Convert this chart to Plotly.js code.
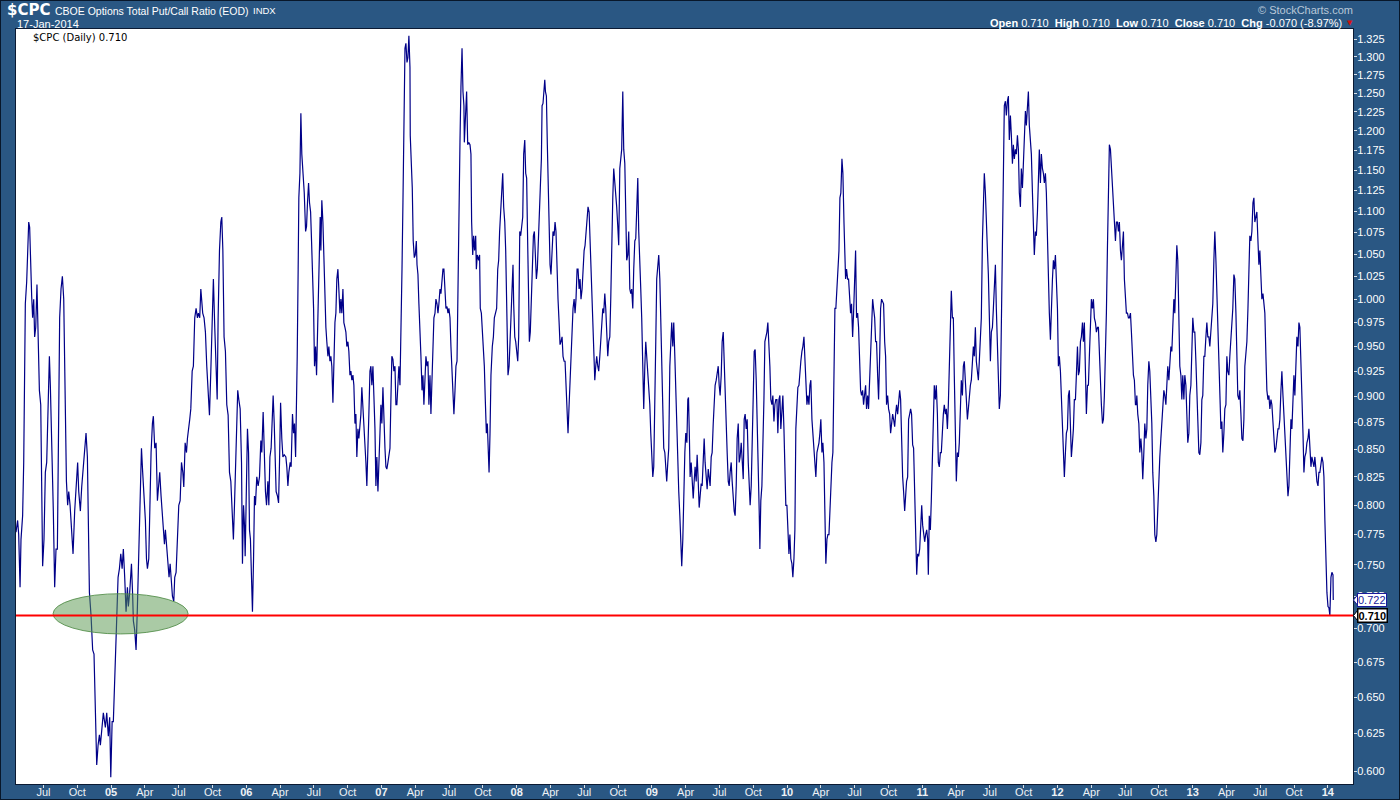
<!DOCTYPE html>
<html><head><meta charset="utf-8">
<script src="https://cdn.plot.ly/plotly-3.0.1.min.js"></script>
<style>
html,body{margin:0;padding:0;background:#2a5783;overflow:hidden;}
#chart{width:1398px;height:798px;border:1px solid #08172a;}
</style>
</head><body><div id="chart"></div>
<script>
// ---- data (decimal year, put/call ratio) ----
const T04_05 = [2004.297,2004.309,2004.317,2004.327,2004.334,2004.346,2004.354,2004.366,2004.376,2004.386,2004.391,2004.398,2004.406,2004.413,2004.420,2004.428,2004.435,2004.443,2004.452,2004.460,2004.470,2004.480,2004.489,2004.494,2004.504,2004.514,2004.524,2004.534,2004.544,2004.551,2004.563,2004.573,2004.583,2004.593,2004.603,2004.610,2004.620,2004.630,2004.640,2004.650,2004.655,2004.662,2004.670,2004.679,2004.687,2004.697,2004.704,2004.711,2004.719,2004.731,2004.741,2004.753,2004.761,2004.773,2004.783,2004.798,2004.805,2004.815,2004.825,2004.832,2004.840,2004.852,2004.864,2004.874,2004.884,2004.894,2004.904,2004.914,2004.921,2004.933,2004.943,2004.958,2004.968,2004.980,2004.990,2004.998,2005.008,2005.017,2005.027,2005.037,2005.045,2005.052,2005.062,2005.072,2005.082,2005.091,2005.101,2005.111,2005.121,2005.128,2005.138,2005.151,2005.160,2005.165,2005.175,2005.185,2005.195,2005.205,2005.215,2005.225,2005.234,2005.244,2005.254,2005.262,2005.269,2005.279,2005.286,2005.296,2005.306,2005.313,2005.323,2005.333,2005.343,2005.353,2005.360,2005.370,2005.380,2005.387,2005.395,2005.402,2005.412,2005.420,2005.429,2005.437,2005.444,2005.454,2005.464,2005.471,2005.481,2005.491,2005.501,2005.511,2005.521,2005.531,2005.538,2005.548,2005.558,2005.565,2005.575,2005.582,2005.590,2005.600,2005.609,2005.619,2005.629,2005.639,2005.646,2005.656,2005.664,2005.671,2005.678,2005.688,2005.698,2005.708,2005.718,2005.728,2005.738,2005.748,2005.757,2005.767,2005.777,2005.785,2005.792,2005.802,2005.812,2005.819,2005.827,2005.836,2005.846,2005.856,2005.866,2005.876,2005.886,2005.895,2005.905,2005.913,2005.923,2005.930,2005.937,2005.945];
const V04_05 = [0.777,0.787,0.775,0.732,0.771,0.791,0.838,0.995,1.019,1.071,1.087,1.081,1.016,1.003,0.980,1.000,0.960,0.970,1.016,0.970,0.906,0.892,0.812,0.749,0.771,0.829,0.838,0.906,0.940,0.911,0.856,0.795,0.732,0.763,0.763,0.865,0.980,1.011,1.025,1.000,0.955,0.901,0.821,0.800,0.812,0.800,0.787,0.775,0.759,0.795,0.812,0.838,0.812,0.795,0.816,0.838,0.843,0.865,0.843,0.795,0.728,0.710,0.684,0.681,0.633,0.604,0.617,0.624,0.617,0.629,0.639,0.629,0.639,0.623,0.636,0.596,0.633,0.633,0.660,0.702,0.717,0.740,0.747,0.759,0.747,0.763,0.740,0.713,0.732,0.717,0.728,0.751,0.725,0.706,0.699,0.684,0.717,0.755,0.795,0.851,0.829,0.812,0.787,0.755,0.747,0.755,0.795,0.847,0.874,0.881,0.851,0.856,0.804,0.816,0.829,0.808,0.787,0.783,0.767,0.779,0.763,0.755,0.740,0.751,0.736,0.725,0.721,0.740,0.744,0.767,0.800,0.804,0.838,0.829,0.816,0.856,0.847,0.860,0.869,0.878,0.888,0.925,0.930,0.980,0.990,0.980,0.985,0.980,1.011,1.000,0.985,0.980,0.965,0.930,0.906,0.882,0.925,0.995,1.022,0.970,0.920,0.897,0.980,1.054,1.087,1.093,1.054,0.960,0.945,0.892,0.882,0.829,0.821,0.800,0.771,0.800,0.851,0.865,0.906,0.897];

const T06_07 = [2005.955,2005.965,2005.972,2005.980,2005.987,2005.992,2006.000,2006.009,2006.017,2006.024,2006.031,2006.039,2006.046,2006.054,2006.061,2006.068,2006.078,2006.088,2006.098,2006.108,2006.115,2006.125,2006.135,2006.142,2006.150,2006.160,2006.167,2006.175,2006.184,2006.192,2006.199,2006.207,2006.214,2006.221,2006.231,2006.239,2006.246,2006.254,2006.263,2006.271,2006.281,2006.293,2006.300,2006.308,2006.315,2006.325,2006.332,2006.342,2006.350,2006.357,2006.365,2006.372,2006.377,2006.384,2006.389,2006.397,2006.404,2006.411,2006.419,2006.429,2006.439,2006.446,2006.453,2006.461,2006.468,2006.476,2006.483,2006.490,2006.498,2006.505,2006.513,2006.520,2006.527,2006.535,2006.542,2006.547,2006.552,2006.559,2006.567,2006.574,2006.582,2006.589,2006.596,2006.604,2006.611,2006.619,2006.626,2006.633,2006.641,2006.648,2006.656,2006.663,2006.670,2006.678,2006.685,2006.693,2006.700,2006.707,2006.715,2006.722,2006.730,2006.737,2006.744,2006.752,2006.759,2006.767,2006.774,2006.781,2006.789,2006.796,2006.804,2006.811,2006.818,2006.826,2006.833,2006.841,2006.848,2006.855,2006.863,2006.870,2006.878,2006.885,2006.892,2006.900,2006.907,2006.915,2006.922,2006.929,2006.937,2006.944,2006.952,2006.959,2006.966,2006.974,2006.981,2006.989,2006.996,2007.003,2007.011,2007.018,2007.026,2007.033,2007.040,2007.048,2007.055,2007.063,2007.070,2007.077,2007.085,2007.092,2007.100,2007.107,2007.114,2007.122,2007.129,2007.137,2007.144,2007.152,2007.159,2007.166,2007.174,2007.181,2007.189,2007.196,2007.203,2007.211,2007.213,2007.221,2007.228,2007.235,2007.243,2007.250,2007.258,2007.263,2007.270,2007.277,2007.285,2007.292,2007.300,2007.307,2007.314,2007.322,2007.329,2007.337,2007.344,2007.351,2007.359,2007.366,2007.374,2007.381,2007.388,2007.396,2007.403,2007.411,2007.418,2007.425,2007.433,2007.440,2007.448,2007.455,2007.462,2007.470,2007.477,2007.485,2007.492,2007.499,2007.507,2007.514,2007.522,2007.529,2007.536,2007.544,2007.551,2007.559,2007.566,2007.573,2007.581,2007.588,2007.596,2007.603,2007.610];
const V06_07 = [0.888,0.838,0.751,0.800,0.783,0.757,0.804,0.869,0.847,0.779,0.771,0.736,0.713,0.755,0.808,0.800,0.825,0.817,0.825,0.858,0.847,0.885,0.838,0.812,0.800,0.821,0.800,0.843,0.851,0.892,0.901,0.874,0.829,0.812,0.808,0.802,0.838,0.894,0.860,0.843,0.845,0.843,0.834,0.817,0.829,0.838,0.834,0.883,0.865,0.874,0.843,0.892,0.940,1.033,1.116,1.146,1.223,1.170,1.146,1.122,1.076,1.082,1.110,1.134,1.110,1.099,1.065,1.033,0.990,0.930,0.950,0.921,0.960,1.000,1.076,1.093,1.054,1.113,1.087,1.049,0.995,0.970,0.955,0.940,0.950,0.935,0.940,0.930,0.894,0.940,0.975,0.985,1.022,1.033,1.016,0.985,1.000,0.985,1.011,0.975,0.970,0.965,0.950,0.955,0.945,0.921,0.925,0.916,0.921,0.911,0.874,0.883,0.843,0.869,0.860,0.874,0.883,0.909,0.892,0.869,0.860,0.838,0.817,0.843,0.883,0.925,0.930,0.911,0.930,0.901,0.869,0.817,0.843,0.812,0.847,0.865,0.892,0.874,0.909,0.874,0.851,0.834,0.832,0.838,0.847,0.851,0.897,0.940,0.937,0.925,0.930,0.892,0.892,0.921,0.930,0.911,0.955,1.033,1.110,1.252,1.312,1.319,1.292,1.299,1.330,1.285,1.194,1.158,1.128,1.065,1.046,1.049,1.065,1.038,1.027,0.995,0.970,0.940,0.906,0.921,0.892,0.930,0.940,0.930,0.935,0.892,0.921,0.883,0.911,0.950,0.980,0.985,1.000,0.995,0.985,0.995,1.011,1.006,1.027,1.033,1.033,1.011,0.990,0.992,0.985,0.990,0.980,0.950,0.921,0.897,0.883,0.906,0.930,0.935,1.033,1.122,1.188,1.258,1.312,1.252,1.233];

const T07_09 = [2007.613,2007.620,2007.630,2007.638,2007.645,2007.655,2007.662,2007.667,2007.675,2007.682,2007.689,2007.697,2007.702,2007.709,2007.719,2007.726,2007.731,2007.739,2007.746,2007.754,2007.761,2007.768,2007.776,2007.783,2007.791,2007.796,2007.803,2007.810,2007.820,2007.828,2007.835,2007.842,2007.852,2007.860,2007.867,2007.874,2007.882,2007.889,2007.897,2007.904,2007.912,2007.919,2007.924,2007.931,2007.936,2007.944,2007.951,2007.958,2007.966,2007.973,2007.978,2007.986,2007.993,2008.000,2008.008,2008.015,2008.023,2008.030,2008.037,2008.045,2008.052,2008.060,2008.067,2008.074,2008.079,2008.087,2008.094,2008.101,2008.109,2008.116,2008.124,2008.131,2008.138,2008.146,2008.153,2008.161,2008.168,2008.175,2008.183,2008.188,2008.195,2008.203,2008.208,2008.213,2008.220,2008.227,2008.232,2008.240,2008.247,2008.254,2008.262,2008.269,2008.277,2008.284,2008.291,2008.299,2008.306,2008.314,2008.321,2008.328,2008.336,2008.343,2008.351,2008.358,2008.365,2008.373,2008.380,2008.388,2008.395,2008.402,2008.410,2008.417,2008.425,2008.432,2008.439,2008.447,2008.454,2008.462,2008.469,2008.476,2008.484,2008.491,2008.499,2008.506,2008.513,2008.521,2008.528,2008.536,2008.543,2008.550,2008.558,2008.565,2008.573,2008.578,2008.585,2008.592,2008.600,2008.607,2008.615,2008.622,2008.629,2008.637,2008.644,2008.652,2008.659,2008.666,2008.674,2008.681,2008.689,2008.696,2008.703,2008.711,2008.718,2008.726,2008.733,2008.740,2008.748,2008.755,2008.763,2008.770,2008.777,2008.785,2008.792,2008.800,2008.807,2008.814,2008.822,2008.829,2008.837,2008.844,2008.851,2008.859,2008.866,2008.874,2008.881,2008.888,2008.896,2008.903,2008.911,2008.918,2008.925,2008.933,2008.940,2008.948,2008.955,2008.962,2008.970,2008.977,2008.985,2008.992,2008.999,2009.007,2009.014,2009.022,2009.029,2009.036,2009.044,2009.051,2009.059,2009.066,2009.073,2009.081,2009.088,2009.096,2009.103,2009.110,2009.118,2009.125,2009.133,2009.140,2009.147,2009.155,2009.162,2009.170,2009.177,2009.184,2009.192,2009.199,2009.207,2009.214,2009.221,2009.229,2009.236,2009.244,2009.251,2009.259,2009.266];
const V07_09 = [1.185,1.207,1.252,1.182,1.185,1.182,1.170,1.087,1.049,1.071,1.054,1.071,1.033,1.049,1.043,1.049,0.990,0.985,0.970,0.955,0.930,0.897,0.865,0.874,0.838,0.829,0.865,0.921,0.950,0.960,0.980,0.985,0.990,1.033,1.043,1.076,1.105,1.122,1.146,1.105,1.087,1.054,1.000,0.960,0.921,0.930,0.970,0.980,1.011,1.038,0.995,0.960,0.955,0.945,0.935,0.960,1.076,1.071,1.087,1.093,1.170,1.188,1.146,1.140,1.087,1.022,0.955,0.965,1.000,1.033,1.071,1.076,1.049,1.022,1.033,1.076,1.087,1.128,1.164,1.233,1.236,1.252,1.268,1.252,1.246,1.182,1.140,1.099,1.038,1.027,1.060,1.076,1.071,1.087,1.076,1.027,1.000,0.975,0.952,0.955,0.960,0.940,0.935,0.935,0.911,0.883,0.865,0.892,0.916,0.935,0.950,0.990,1.000,0.985,1.000,1.033,1.033,1.011,1.022,1.000,1.011,1.033,1.054,1.060,1.076,1.087,1.105,1.099,1.065,1.033,1.000,0.980,0.950,0.916,0.930,0.940,0.930,0.925,0.940,0.955,0.980,0.990,0.985,1.006,0.990,0.970,0.940,0.955,0.960,1.000,1.076,1.116,1.152,1.134,1.128,1.105,1.082,1.060,1.152,1.164,1.176,1.252,1.176,1.158,1.071,1.043,1.049,1.076,1.011,1.006,1.011,0.990,1.033,1.065,1.068,1.116,1.140,1.076,1.022,1.011,0.980,0.930,0.888,0.930,0.955,0.940,0.925,0.911,0.892,0.865,0.838,0.825,0.834,0.883,0.955,1.022,1.033,1.049,1.022,0.980,0.921,0.883,0.851,0.847,0.829,0.821,0.838,0.851,0.930,0.965,0.975,0.950,0.975,0.940,0.901,0.874,0.838,0.812,0.791,0.763,0.749,0.771,0.812,0.847,0.865,0.856,0.897];

const T09_10 = [2009.271,2009.278,2009.283,2009.291,2009.298,2009.306,2009.313,2009.320,2009.328,2009.335,2009.343,2009.350,2009.357,2009.365,2009.372,2009.380,2009.387,2009.394,2009.402,2009.409,2009.417,2009.424,2009.431,2009.439,2009.446,2009.454,2009.461,2009.468,2009.476,2009.483,2009.491,2009.498,2009.505,2009.513,2009.520,2009.528,2009.535,2009.542,2009.550,2009.557,2009.565,2009.572,2009.579,2009.587,2009.594,2009.602,2009.609,2009.616,2009.624,2009.631,2009.639,2009.646,2009.653,2009.661,2009.668,2009.676,2009.683,2009.690,2009.698,2009.705,2009.713,2009.720,2009.727,2009.735,2009.742,2009.750,2009.757,2009.764,2009.772,2009.779,2009.787,2009.794,2009.799,2009.806,2009.814,2009.821,2009.829,2009.836,2009.843,2009.851,2009.858,2009.866,2009.873,2009.880,2009.888,2009.895,2009.903,2009.910,2009.917,2009.925,2009.932,2009.940,2009.947,2009.954,2009.962,2009.969,2009.977,2009.984,2009.991,2009.999,2010.006,2010.014,2010.021,2010.028,2010.036,2010.043,2010.051,2010.058,2010.065,2010.073,2010.080,2010.088,2010.095,2010.102,2010.110,2010.117,2010.125,2010.132,2010.139,2010.147,2010.154,2010.162,2010.169,2010.176,2010.184,2010.191,2010.199,2010.206,2010.213,2010.221,2010.228,2010.236,2010.243,2010.250,2010.258,2010.265,2010.273,2010.280,2010.287,2010.295,2010.302,2010.310,2010.317,2010.324,2010.332,2010.339,2010.347,2010.354,2010.361,2010.369,2010.376,2010.384,2010.391,2010.398,2010.406,2010.413,2010.421,2010.428,2010.433,2010.440,2010.448,2010.455,2010.463,2010.470,2010.477,2010.485,2010.492,2010.500,2010.507,2010.514,2010.522,2010.529,2010.537,2010.544,2010.551,2010.559,2010.566,2010.574,2010.581,2010.588,2010.596,2010.603,2010.611,2010.618,2010.625,2010.633,2010.640,2010.648,2010.655,2010.662,2010.670,2010.677,2010.685,2010.692,2010.699,2010.707,2010.714,2010.722,2010.729,2010.736,2010.744,2010.751,2010.759,2010.766,2010.773,2010.781,2010.788,2010.796,2010.803,2010.810,2010.818,2010.825,2010.833,2010.840,2010.847,2010.855,2010.862,2010.870,2010.877,2010.884,2010.892,2010.899,2010.907,2010.914,2010.921];
const V09_10 = [0.899,0.860,0.825,0.838,0.825,0.806,0.821,0.834,0.821,0.845,0.821,0.798,0.808,0.819,0.817,0.838,0.860,0.838,0.821,0.814,0.832,0.821,0.817,0.843,0.847,0.874,0.901,0.911,0.916,0.925,0.930,0.911,0.901,0.921,0.955,0.965,0.930,0.921,0.883,0.847,0.821,0.817,0.829,0.838,0.821,0.804,0.795,0.791,0.817,0.860,0.874,0.838,0.843,0.856,0.838,0.823,0.878,0.883,0.869,0.878,0.838,0.812,0.800,0.817,0.847,0.901,0.945,0.947,0.916,0.883,0.838,0.795,0.763,0.804,0.817,0.847,0.897,0.955,0.960,0.965,0.975,0.955,0.930,0.897,0.892,0.901,0.876,0.892,0.897,0.897,0.865,0.897,0.901,0.869,0.883,0.901,0.869,0.838,0.800,0.800,0.775,0.759,0.775,0.755,0.751,0.740,0.755,0.779,0.869,0.892,0.909,0.911,0.930,0.935,0.945,0.950,0.960,0.940,0.906,0.892,0.901,0.892,0.911,0.916,0.878,0.865,0.851,0.843,0.825,0.847,0.851,0.856,0.865,0.878,0.847,0.856,0.838,0.795,0.751,0.771,0.775,0.775,0.795,0.825,0.838,0.847,0.940,0.990,0.990,1.011,1.043,1.054,1.116,1.122,1.164,1.146,1.087,1.043,1.022,1.033,1.022,1.022,1.000,0.985,0.995,0.960,0.985,1.027,1.054,0.980,0.985,0.970,0.940,0.906,0.901,0.906,0.892,0.906,0.911,0.888,0.901,0.888,0.921,0.935,0.960,1.000,0.990,0.980,0.955,0.955,0.921,0.897,0.940,0.990,1.000,0.998,0.995,0.955,0.940,0.892,0.901,0.888,0.883,0.865,0.878,0.883,0.878,0.871,0.883,0.892,0.883,0.892,0.906,0.897,0.851,0.825,0.812,0.795,0.808,0.821,0.825,0.878,0.883,0.888,0.883];

const T11_12 = [2010.929,2010.936,2010.944,2010.951,2010.959,2010.966,2010.973,2010.981,2010.988,2010.996,2011.003,2011.010,2011.018,2011.025,2011.033,2011.040,2011.045,2011.052,2011.060,2011.067,2011.075,2011.082,2011.089,2011.097,2011.104,2011.112,2011.119,2011.126,2011.134,2011.141,2011.149,2011.156,2011.163,2011.171,2011.178,2011.186,2011.193,2011.200,2011.208,2011.215,2011.223,2011.230,2011.237,2011.245,2011.252,2011.260,2011.267,2011.274,2011.282,2011.289,2011.297,2011.304,2011.311,2011.319,2011.326,2011.334,2011.341,2011.348,2011.356,2011.363,2011.371,2011.378,2011.385,2011.393,2011.400,2011.408,2011.415,2011.422,2011.430,2011.437,2011.445,2011.452,2011.459,2011.467,2011.474,2011.482,2011.489,2011.496,2011.504,2011.511,2011.519,2011.526,2011.533,2011.541,2011.548,2011.556,2011.563,2011.570,2011.578,2011.585,2011.593,2011.600,2011.607,2011.615,2011.622,2011.630,2011.637,2011.644,2011.652,2011.659,2011.667,2011.674,2011.681,2011.689,2011.696,2011.704,2011.711,2011.718,2011.726,2011.733,2011.741,2011.748,2011.755,2011.763,2011.770,2011.778,2011.785,2011.792,2011.800,2011.807,2011.815,2011.822,2011.829,2011.837,2011.844,2011.852,2011.859,2011.866,2011.874,2011.881,2011.889,2011.896,2011.903,2011.911,2011.918,2011.926,2011.933,2011.940,2011.948,2011.955,2011.963,2011.970,2011.977,2011.985,2011.992,2012.000,2012.007,2012.014,2012.022,2012.029,2012.037,2012.044,2012.051,2012.059,2012.066,2012.074,2012.081,2012.088,2012.096,2012.103,2012.111,2012.118,2012.125,2012.133,2012.140,2012.148,2012.155,2012.162,2012.170,2012.177,2012.185,2012.192,2012.199,2012.207,2012.214,2012.222,2012.229,2012.236,2012.244,2012.251,2012.259,2012.266,2012.273,2012.281,2012.288,2012.296,2012.303,2012.310,2012.318,2012.325,2012.333,2012.340,2012.347,2012.355,2012.362,2012.370,2012.377,2012.384,2012.392,2012.399,2012.407,2012.414,2012.421,2012.429,2012.436,2012.444,2012.451,2012.458,2012.466,2012.473,2012.481,2012.488,2012.495,2012.503,2012.510,2012.518,2012.525,2012.532,2012.540,2012.547,2012.555,2012.562,2012.569,2012.577,2012.584];
const V11_12 = [0.854,0.851,0.812,0.759,0.742,0.759,0.757,0.763,0.783,0.800,0.783,0.775,0.769,0.775,0.779,0.771,0.742,0.791,0.779,0.804,0.847,0.883,0.911,0.897,0.911,0.883,0.838,0.834,0.847,0.847,0.869,0.883,0.892,0.883,0.888,0.869,0.892,0.921,0.970,1.009,0.980,0.980,0.921,0.860,0.821,0.847,0.843,0.856,0.901,0.916,0.901,0.930,0.935,0.911,0.888,0.878,0.888,0.901,0.911,0.916,0.935,0.950,0.940,0.970,0.935,0.921,0.916,0.935,0.960,0.980,1.065,1.128,1.146,1.122,1.076,1.054,1.027,0.985,0.935,0.965,0.970,0.990,1.011,1.038,0.990,0.950,0.911,0.888,0.901,0.960,1.076,1.146,1.233,1.239,1.220,1.239,1.246,1.188,1.220,1.194,1.158,1.182,1.164,1.176,1.170,1.194,1.176,1.122,1.105,1.152,1.128,1.158,1.188,1.226,1.207,1.239,1.252,1.207,1.182,1.170,1.122,1.087,1.049,1.076,1.071,1.099,1.134,1.176,1.134,1.170,1.152,1.146,1.134,1.146,1.122,1.054,1.027,0.985,0.957,1.000,1.022,1.043,1.033,1.049,1.022,0.990,0.930,0.940,0.925,0.901,0.865,0.847,0.825,0.847,0.865,0.869,0.901,0.906,0.865,0.843,0.856,0.869,0.897,0.897,0.921,0.950,0.921,0.925,0.955,0.960,0.975,0.955,0.975,0.921,0.883,0.911,0.911,0.940,0.980,1.000,0.990,1.000,0.980,0.975,0.965,0.970,0.970,0.940,0.901,0.892,0.874,0.878,0.901,0.940,0.985,1.060,1.116,1.182,1.176,1.152,1.128,1.116,1.076,1.065,1.087,1.087,1.076,1.087,1.054,1.043,1.060,1.076,1.022,1.006,0.985,0.985,0.980,0.980,0.985,0.965,0.935,0.921,0.916,0.892,0.892];

const T12_14 = [2012.587,2012.594,2012.602,2012.609,2012.617,2012.624,2012.631,2012.639,2012.646,2012.654,2012.661,2012.668,2012.676,2012.683,2012.691,2012.698,2012.705,2012.713,2012.720,2012.728,2012.735,2012.742,2012.750,2012.757,2012.765,2012.772,2012.779,2012.787,2012.794,2012.802,2012.809,2012.816,2012.824,2012.831,2012.839,2012.846,2012.853,2012.861,2012.868,2012.876,2012.883,2012.890,2012.898,2012.905,2012.913,2012.920,2012.927,2012.935,2012.942,2012.950,2012.957,2012.964,2012.972,2012.979,2012.987,2012.994,2013.001,2013.009,2013.016,2013.024,2013.031,2013.038,2013.046,2013.053,2013.061,2013.068,2013.075,2013.083,2013.090,2013.098,2013.105,2013.112,2013.120,2013.127,2013.135,2013.142,2013.149,2013.157,2013.164,2013.172,2013.179,2013.186,2013.194,2013.201,2013.209,2013.216,2013.223,2013.231,2013.238,2013.246,2013.253,2013.260,2013.268,2013.275,2013.283,2013.290,2013.297,2013.305,2013.312,2013.320,2013.327,2013.334,2013.342,2013.349,2013.357,2013.364,2013.372,2013.379,2013.386,2013.394,2013.401,2013.409,2013.416,2013.423,2013.431,2013.438,2013.446,2013.453,2013.460,2013.468,2013.475,2013.483,2013.490,2013.497,2013.505,2013.512,2013.520,2013.527,2013.534,2013.542,2013.549,2013.557,2013.564,2013.571,2013.579,2013.586,2013.594,2013.601,2013.608,2013.616,2013.623,2013.631,2013.638,2013.645,2013.653,2013.660,2013.668,2013.675,2013.682,2013.690,2013.697,2013.705,2013.712,2013.719,2013.727,2013.734,2013.742,2013.749,2013.756,2013.764,2013.771,2013.779,2013.786,2013.793,2013.801,2013.808,2013.816,2013.823,2013.830,2013.838,2013.845,2013.853,2013.860,2013.867,2013.875,2013.882,2013.890,2013.897,2013.904,2013.912,2013.919,2013.927,2013.934,2013.941,2013.949,2013.956,2013.964,2013.971,2013.978,2013.986,2013.993,2014.001,2014.008,2014.015,2014.023,2014.030,2014.038,2014.040];
const V12_14 = [0.901,0.883,0.874,0.847,0.860,0.847,0.823,0.847,0.874,0.860,0.869,0.911,0.935,0.925,0.901,0.874,0.829,0.808,0.775,0.769,0.775,0.800,0.825,0.843,0.860,0.874,0.888,0.906,0.901,0.892,0.911,0.930,0.916,0.935,0.950,0.945,0.980,1.000,0.985,1.033,1.060,1.043,0.950,0.930,0.921,0.897,0.921,0.897,0.921,0.911,0.883,0.856,0.865,0.901,0.911,0.950,0.980,0.965,0.965,0.935,0.901,0.865,0.847,0.845,0.856,0.897,0.901,0.940,0.940,0.960,0.975,0.960,0.960,0.950,0.965,0.980,0.995,1.043,1.076,1.043,1.009,0.980,0.940,0.901,0.869,0.876,0.847,0.865,0.888,0.892,0.940,0.925,0.921,0.940,0.960,0.970,0.990,1.027,1.022,0.985,0.930,0.901,0.897,0.906,0.883,0.860,0.858,0.878,0.930,0.940,0.955,0.990,1.033,1.071,1.065,1.076,1.110,1.116,1.087,1.093,1.099,1.065,1.038,1.054,1.011,1.000,1.006,0.995,0.985,0.940,0.906,0.897,0.901,0.888,0.897,0.892,0.878,0.865,0.847,0.851,0.860,0.869,0.869,0.878,0.906,0.925,0.901,0.883,0.865,0.847,0.829,0.808,0.817,0.851,0.878,0.869,0.892,0.921,0.901,0.935,0.960,0.950,0.975,0.970,0.940,0.901,0.865,0.829,0.843,0.847,0.856,0.860,0.869,0.847,0.834,0.843,0.838,0.834,0.843,0.825,0.821,0.817,0.829,0.829,0.840,0.843,0.838,0.825,0.787,0.747,0.728,0.717,0.716,0.710,0.740,0.744,0.742,0.722];

// axis ticks
const Y_TICKS = [0.600,0.625,0.650,0.675,0.700,0.725,0.750,0.775,0.800,0.825,0.850,0.875,0.900,0.925,0.950,0.975,1.000,1.025,1.050,1.075,1.100,1.125,1.150,1.175,1.200,1.225,1.250,1.275,1.300,1.325];
const TICK_YEARS = [2004,2005,2006,2007,2008,2009,2010,2011,2012,2013,2014];
const QUARTER_LABELS = ['Apr','Jul','Oct'];

// reference level and highlight
const SUPPORT_LEVEL = 0.710;
const LAST_VALUE = 0.722;
const HIGHLIGHT = {x0: 2004.571, x1: 2005.570, v0: 0.696, v1: 0.727};

const HEADER_SYMBOL = '$CPC';
const HEADER_TITLE = 'CBOE Options Total Put/Call Ratio (EOD)';
const HEADER_EXCH = 'INDX';
const HEADER_DATE = '17-Jan-2014';
const OHLC = {Open: '0.710', High: '0.710', Low: '0.710', Close: '0.710', Chg: '-0.070 (-8.97%)'};

// ---- build ----
const xs = [].concat(T04_05, T06_07, T07_09, T09_10, T11_12, T12_14);
const ys = [].concat(V04_05, V06_07, V07_09, V09_10, V11_12, V12_14);

const tickvals = [];
TICK_YEARS.forEach(yr => {
  if (yr > 2004) tickvals.push(yr);
  if (yr < 2014) QUARTER_LABELS.forEach((q, i) => {
    const v = yr + 0.25 * (i + 1);
    if (v >= 2004.4) tickvals.push(v);
  });
});
tickvals.sort((a,b)=>a-b);
const ticktext = tickvals.map(v => {
  const frac = Math.round((v - Math.floor(v)) * 4);
  if (frac === 0) return '<b>' + String(Math.floor(v)).slice(2) + '</b>';
  return QUARTER_LABELS[frac - 1];
});

const YMIN = -0.22794, YMAX = 0.12701;
const L = Math.log10;
const FONT = 'Liberation Sans, Arial, sans-serif';
const px = p => (p - 16) / 1336;     // page x -> paper x
const py = p => (783 - p) / 754;     // page y -> paper y
const paperOfVal = v => (L(v) - YMIN) / (YMAX - YMIN);

const trace = {
  x: xs, y: ys, type: 'scatter', mode: 'lines',
  line: {color: '#000088', width: 1.2},
  hoverinfo: 'skip'
};

const ohlcText = Object.keys(OHLC).map(k => '<b>' + k + '</b>\u00a0' + OHLC[k]).join('\u00a0\u00a0');

const annotations = [
  {xref:'paper', yref:'paper', x: px(5), y: py(10), xanchor:'left', yanchor:'middle', showarrow:false,
   text:'<b>' + HEADER_SYMBOL + '</b>', font:{family:'DejaVu Sans, sans-serif', size:15, color:'#ffffff'}},
  {xref:'paper', yref:'paper', x: px(53), y: py(11), xanchor:'left', yanchor:'middle', showarrow:false,
   text: HEADER_TITLE, font:{family:FONT, size:10.5, color:'#ffffff'}},
  {xref:'paper', yref:'paper', x: px(251), y: py(11), xanchor:'left', yanchor:'middle', showarrow:false,
   text: HEADER_EXCH, font:{family:FONT, size:9.5, color:'#ffffff'}},
  {xref:'paper', yref:'paper', x: px(15), y: py(24), xanchor:'left', yanchor:'middle', showarrow:false,
   text: HEADER_DATE, font:{family:FONT, size:11, color:'#ffffff'}},
  {xref:'paper', yref:'paper', x: px(1354), y: py(10), xanchor:'right', yanchor:'middle', showarrow:false,
   text: '\u00a9 StockCharts.com', font:{family:FONT, size:11, color:'#b9c8d8'}},
  {xref:'paper', yref:'paper', x: px(1343), y: py(23), xanchor:'right', yanchor:'middle', showarrow:false,
   text: ohlcText, font:{family:FONT, size:11, color:'#ffffff'}},
  {xref:'paper', yref:'paper', x: px(1349), y: py(23), xanchor:'center', yanchor:'middle', showarrow:false,
   text: '\u25BC', font:{family:'DejaVu Sans, sans-serif', size:7, color:'#d01010'}},
  {xref:'paper', yref:'paper', x: px(31), y: py(37), xanchor:'left', yanchor:'middle', showarrow:false,
   text: HEADER_SYMBOL + ' (Daily) ' + OHLC.Close, font:{family:'DejaVu Sans, sans-serif', size:10, color:'#000000'}},
  {xref:'paper', yref:'paper', x: px(1356), y: paperOfVal(LAST_VALUE), xanchor:'left', yanchor:'middle', showarrow:false,
   text: LAST_VALUE.toFixed(3), bgcolor:'#ffffff', bordercolor:'#1a1a9a', borderwidth:1, borderpad:0,
   font:{family:FONT, size:11, color:'#1a1a9a'}},
  {xref:'paper', yref:'paper', x: px(1356), y: paperOfVal(SUPPORT_LEVEL), xanchor:'left', yanchor:'middle', showarrow:false,
   text: '<b>' + SUPPORT_LEVEL.toFixed(3) + '</b>', bgcolor:'#ffffff', bordercolor:'#000000', borderwidth:1.5, borderpad:0,
   font:{family:FONT, size:11, color:'#000000'}}
];

function notch(v, color) {
  const yc = paperOfVal(v), h = 5 / 754;
  return {type:'path', xref:'paper', yref:'paper', layer:'above',
    path: 'M ' + px(1352.5) + ',' + yc + ' L ' + px(1356.5) + ',' + (yc + h) + ' L ' + px(1356.5) + ',' + (yc - h) + ' Z',
    fillcolor:'#ffffff', line:{color: color, width:1}};
}

const shapes = [
  {type:'circle', xref:'x', yref:'paper', x0: HIGHLIGHT.x0, x1: HIGHLIGHT.x1,
   y0: paperOfVal(HIGHLIGHT.v0), y1: paperOfVal(HIGHLIGHT.v1),
   fillcolor:'rgba(85,150,75,0.5)', line:{color:'rgba(80,140,70,0.85)', width:1}, layer:'above'},
  {type:'line', xref:'paper', yref:'paper', x0:0, x1:1, y0: paperOfVal(SUPPORT_LEVEL), y1: paperOfVal(SUPPORT_LEVEL),
   line:{color:'#ff0000', width:2}, layer:'above'},
  notch(LAST_VALUE, '#1a1a9a'),
  notch(SUPPORT_LEVEL, '#000000')
];

const layout = {
  width: 1398, height: 798,
  margin: {l:15, r:46, t:28, b:15, pad:0},
  paper_bgcolor: '#2a5783', plot_bgcolor: '#ffffff',
  showlegend: false, hovermode: false,
  font: {family: FONT, color: '#ffffff', size: 11},
  xaxis: {
    type:'linear', range:[2004.297, 2014.186], tickmode:'array', tickvals: tickvals, ticktext: ticktext,
    ticks:'outside', ticklen:3, tickcolor:'#d5dde6', tickwidth:1, ticklabelstandoff:-5,
    showgrid:false, zeroline:false, showline:true, mirror:true, linecolor:'#0b1a33', linewidth:1,
    tickfont:{family:FONT, size:11, color:'#eef2f6'}, fixedrange:true
  },
  yaxis: {
    type:'log', side:'right', range:[YMIN, YMAX], tickmode:'array', tickvals: Y_TICKS,
    ticktext: Y_TICKS.map(v => v.toFixed(3)),
    ticks:'outside', ticklen:3, tickcolor:'#d5dde6', tickwidth:1, ticklabelstandoff:-2,
    showgrid:false, zeroline:false, showline:true, mirror:true, linecolor:'#0b1a33', linewidth:1,
    tickfont:{family:FONT, size:11, color:'#ffffff'}, fixedrange:true
  },
  annotations: annotations,
  shapes: shapes
};

Plotly.newPlot('chart', [trace], layout, {displayModeBar:false, staticPlot:true});
</script>
</body></html>
